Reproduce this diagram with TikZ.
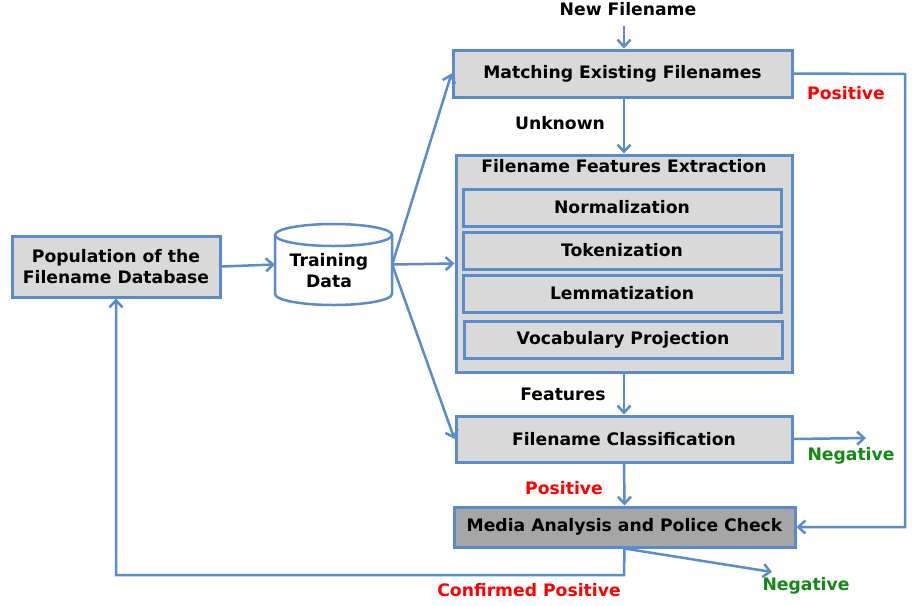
\documentclass[tikz,border=0pt]{standalone}
\usepackage{fontspec}
\setmainfont{DejaVu Sans}
\usetikzlibrary{arrows.meta}
\definecolor{bl}{HTML}{5B8BC9}
\definecolor{boxg}{HTML}{D9D9D9}
\definecolor{darkg}{HTML}{A6A6A6}
\definecolor{posred}{HTML}{FF0000}
\definecolor{neggreen}{HTML}{108A10}
\tikzset{
  box/.style={draw=bl, line width=3pt, fill=boxg, inner sep=0pt, align=center},
  arr/.style={draw=bl, line width=2.5pt, -{Straight Barb[length=7pt,width=13pt,line width=2.5pt]}},
  conn/.style={draw=bl, line width=2.5pt},
  lbl/.style={inner sep=0pt},
  poslbl/.style={lbl, text=posred},
  neglbl/.style={lbl, text=neggreen}
}
\begin{document}
\begin{tikzpicture}[x=1pt,y=-1pt,font=\bfseries\fontsize{17.2}{21}\selectfont]
\useasboundingbox (0,0) rectangle (912,605);
% boxes
\node[box, minimum width=339pt, minimum height=47pt] (match) at (622.5,73.5) {Matching Existing Filenames};
\node[box, minimum width=336pt, minimum height=217pt] (fext) at (624,263.5) {};
\node[lbl] (fextT) at (624,166) {Filename Features Extraction};
\node[box, minimum width=318pt, minimum height=37pt] (norm) at (622,207.5) {Normalization};
\node[box, minimum width=318pt, minimum height=37pt] (tok) at (622,250.5) {Tokenization};
\node[box, minimum width=318pt, minimum height=37pt] (lem) at (622,293.5) {Lemmatization};
\node[box, minimum width=318pt, minimum height=37pt] (voc) at (623,339.5) {Vocabulary Projection};
\node[box, minimum width=336pt, minimum height=46pt] (cls) at (624,439) {Filename Classification};
\node[box, fill=darkg, minimum width=341pt, minimum height=40pt] (media) at (624.5,527) {Media Analysis and Police Check};
\node[box, minimum width=208pt, minimum height=61pt] (pop) at (116,266.5) {Population of the\\Filename Database};
% cylinder
\fill[white] (275,235) rectangle (392,294);
\fill[white] (333.5,294) ellipse [x radius=58.5, y radius=11];
\draw[conn] (275,235) -- (275,294) arc[start angle=180, end angle=0, x radius=58.5, y radius=11] -- (392,235);
\draw[conn, fill=white] (333.5,235) ellipse [x radius=58.5, y radius=11];
\node[lbl, minimum width=117pt, minimum height=81pt] (td) at (333.5,264.5) {};
\node[lbl, align=center] (tdT) at (329,271) {Training\\Data};
% labels
\node[lbl] (nf) at (628,9) {New Filename};
\node[lbl] (unk) at (560,123) {Unknown};
\node[poslbl] (pos1) at (846,93) {Positive};
\node[lbl] (feat) at (563,394) {Features};
\node[neglbl] (neg1) at (851,456) {Negative};
\node[poslbl] (pos2) at (564,488) {Positive};
\node[poslbl] (cpos) at (529,590) {Confirmed Positive};
\node[neglbl] (neg2) at (806,586) {Negative};
% coordinates
\coordinate (rt) at (905,74);
\coordinate (negc) at (866,438);
\coordinate (negm) at (772,572);
\coordinate (cp) at (624,575);
\coordinate (nfa) at (624,26);
% connectors
\draw[arr] (nfa) -- (match.north -| nfa);
\draw[arr] (match.south -| fext.north) -- (fext.north);
\draw[arr] (match.east) -- (rt) |- (media.east);
\draw[arr] (pop.east) -- (td.west);
\draw[arr] (td.east) -- (fext.west);
\draw[arr] (td.east) -- (match.west);
\draw[arr] (td.east) -- (cls.west);
\draw[arr] (fext.south) -- (cls.north);
\draw[arr] (cls.east) -- (negc);
\draw[arr] (cls.south) -- (media.north);
\draw[arr] (media.south) -- (negm);
\draw[arr] (media.south) -- (cp) -| (pop.south);
\end{tikzpicture}
\end{document}
